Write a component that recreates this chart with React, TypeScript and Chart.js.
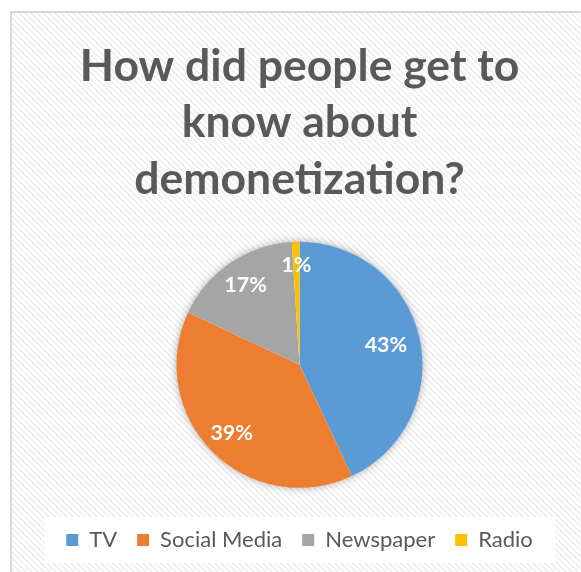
import React, { useEffect, useRef } from "react";
import { Chart, registerables } from "chart.js";

Chart.register(...registerables);

const categories = ["TV", "Social Media", "Newspaper", "Radio"];
const shares = [43, 39, 17, 1];
const colors = ["#5B9BD5", "#ED7D31", "#A5A5A5", "#FFC000"];
const titleLines = ["How did people get to", "know about", "demonetization?"];

const FONT = "Lato, 'Open Sans', sans-serif";

function makeHatch(ctx: CanvasRenderingContext2D) {
  const c = document.createElement("canvas");
  c.width = 6;
  c.height = 6;
  const g = c.getContext("2d")!;
  g.fillStyle = "#ffffff";
  g.fillRect(0, 0, 6, 6);
  g.strokeStyle = "#eeeeee";
  g.lineWidth = 1.6;
  g.beginPath();
  g.moveTo(-1, -1);
  g.lineTo(7, 7);
  g.moveTo(-7, -1);
  g.lineTo(1, 7);
  g.moveTo(5, -1);
  g.lineTo(13, 7);
  g.stroke();
  return ctx.createPattern(c, "repeat");
}

const backgroundPlugin = {
  id: "bgPlugin",
  beforeDraw(chart: any) {
    const { ctx, width, height } = chart;
    ctx.save();
    ctx.fillStyle = "#ffffff";
    ctx.fillRect(0, 0, width, height);
    const pat = makeHatch(ctx);
    if (pat) {
      ctx.fillStyle = pat;
      ctx.fillRect(12, 13, width - 12, height - 13);
    }
    ctx.strokeStyle = "#d9d9d9";
    ctx.lineWidth = 2;
    ctx.strokeRect(11, 12, width + 20, height + 20);
    // legend white box
    ctx.fillStyle = "#ffffff";
    ctx.fillRect(45, 517, 510, 46);
    ctx.restore();
  },
  beforeDatasetsDraw(chart: any) {
    const meta = chart.getDatasetMeta(0);
    const arc = meta.data[0];
    if (!arc) return;
    const { x, y, outerRadius } = arc.getProps(["x", "y", "outerRadius"], true);
    const ctx = chart.ctx;
    ctx.save();
    ctx.shadowColor = "rgba(0,0,0,0.35)";
    ctx.shadowBlur = 8;
    ctx.fillStyle = "#ffffff";
    ctx.beginPath();
    ctx.arc(x, y, outerRadius - 0.5, 0, Math.PI * 2);
    ctx.fill();
    ctx.restore();
  },
  afterDatasetsDraw(chart: any) {
    const meta = chart.getDatasetMeta(0);
    const ctx = chart.ctx;
    ctx.save();
    ctx.fillStyle = "#ffffff";
    ctx.font = `bold 21.5px ${FONT}`;
    ctx.textAlign = "center";
    ctx.textBaseline = "middle";
    meta.data.forEach((arc: any, i: number) => {
      const { x, y, startAngle, endAngle, outerRadius } = arc.getProps(
        ["x", "y", "startAngle", "endAngle", "outerRadius"],
        true
      );
      const mid = (startAngle + endAngle) / 2;
      const r = outerRadius * (i === 0 ? 0.72 : i === 3 ? 0.81 : 0.78);
      ctx.fillText(shares[i] + "%", x + Math.cos(mid) * r, y + Math.sin(mid) * r);
    });
    ctx.restore();
  },
};

export default function App() {
  const ref = useRef<HTMLCanvasElement>(null);
  useEffect(() => {
    if (!ref.current) return;
    const chart = new Chart(ref.current, {
      type: "pie",
      data: {
        labels: categories,
        datasets: [
          {
            data: shares,
            backgroundColor: colors,
            borderWidth: 0,
            radius: 123,
          },
        ],
      },
      options: {
        animation: false,
        responsive: false,
        devicePixelRatio: 1,
        layout: { padding: { left: 18, right: 0, top: 20, bottom: 11 } },
        plugins: {
          title: {
            display: true,
            text: titleLines,
            color: "#595959",
            font: { family: FONT, size: 44.5, weight: "bold", lineHeight: 1.27 },
            padding: { top: 18, bottom: 13 },
          },
          legend: {
            position: "bottom",
            labels: {
              color: "#595959",
              font: { family: FONT, size: 22 },
              boxWidth: 12,
              boxHeight: 12,
              padding: 20,
            },
          },
          tooltip: { enabled: false },
        },
      },
      plugins: [backgroundPlugin],
    });
    return () => chart.destroy();
  }, []);
  return (
    <canvas
      ref={ref}
      width={581}
      height={572}
      style={{ position: "absolute", left: 0, top: 0, width: 581, height: 572 }}
    />
  );
}
